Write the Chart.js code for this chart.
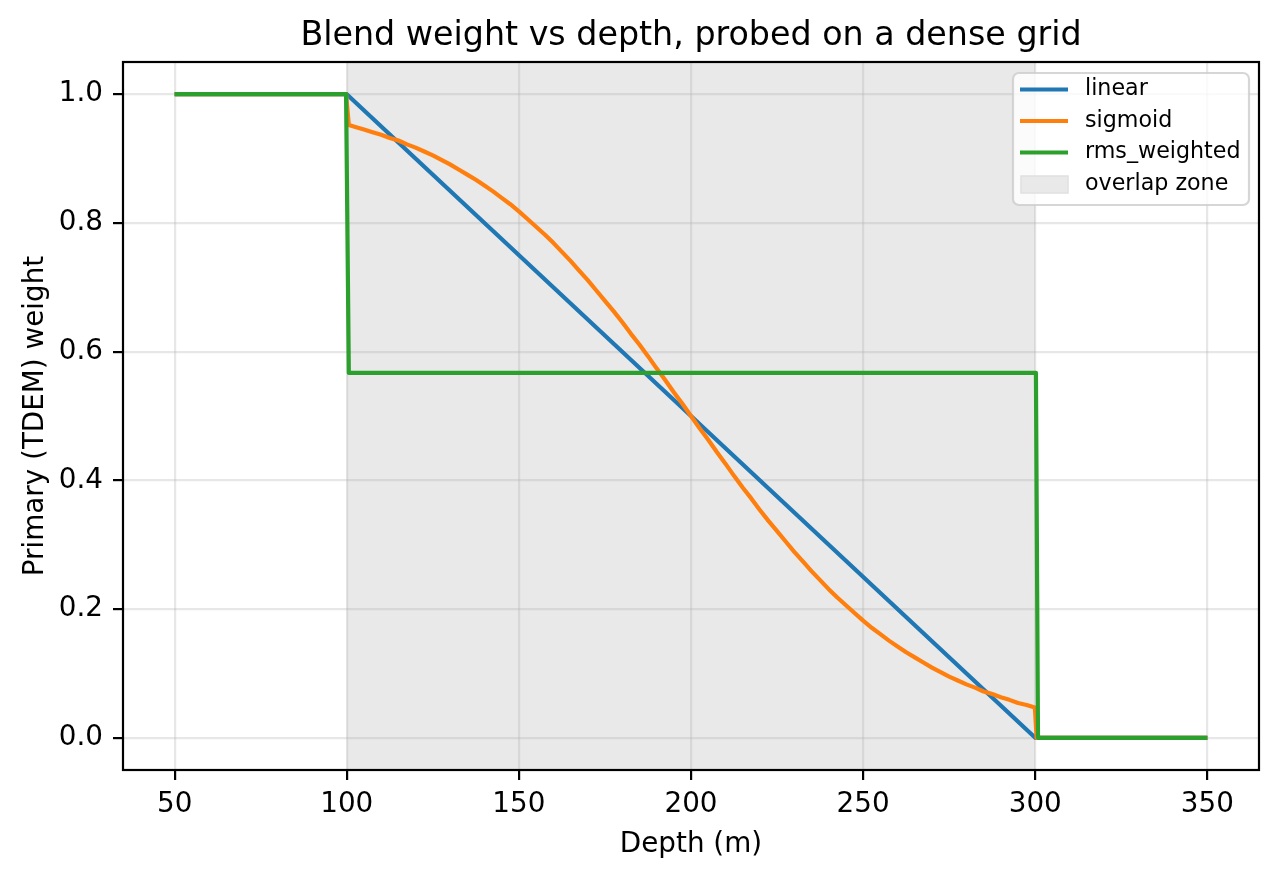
<!DOCTYPE html>
<html>
<head>
<meta charset="utf-8">
<script src="https://cdn.jsdelivr.net/npm/chart.js@4.4.1/dist/chart.umd.min.js"></script>
<style>
html,body{margin:0;padding:0;background:#fff;}
canvas{display:block;}
</style>
</head>
<body>
<canvas id="c" width="1280" height="877"></canvas>
<script>
// ---- data ----
const titleText = "Blend weight vs depth, probed on a dense grid";
const xLabel = "Depth (m)";
const yLabel = "Primary (TDEM) weight";
const xTicks = [50, 100, 150, 200, 250, 300, 350];
const yTicks = [0.0, 0.2, 0.4, 0.6, 0.8, 1.0];
const overlapZone = [100, 300];

const linearDepth = [50, 100, 300, 350];
const linearWeight = [1.0, 1.0, 0.0, 0.0];

const sigmoidDepth = [50, 99.8, 100.6, 102.5, 105, 107.5, 110, 112.5, 115, 117.5, 120, 122.5, 125, 127.5, 130, 132.5, 135, 137.5, 140, 142.5, 145, 147.5, 150, 152.5, 155, 157.5, 160, 162.5, 165, 167.5, 170, 172.5, 175, 177.5, 180, 182.5, 185, 187.5, 190, 192.5, 195, 197.5, 200, 202.5, 205, 207.5, 210, 212.5, 215, 217.5, 220, 222.5, 225, 227.5, 230, 232.5, 235, 237.5, 240, 242.5, 245, 247.5, 250, 252.5, 255, 257.5, 260, 262.5, 265, 267.5, 270, 272.5, 275, 277.5, 280, 282.5, 285, 287.5, 290, 292.5, 295, 297.5, 299.9, 300.4, 350];
const sigmoidWeight = [1.0, 1.0, 0.952, 0.949, 0.945, 0.941, 0.937, 0.932, 0.928, 0.922, 0.917, 0.911, 0.905, 0.898, 0.891, 0.883, 0.875, 0.867, 0.858, 0.849, 0.839, 0.829, 0.818, 0.806, 0.794, 0.782, 0.769, 0.755, 0.741, 0.726, 0.711, 0.695, 0.679, 0.663, 0.646, 0.628, 0.611, 0.593, 0.574, 0.556, 0.537, 0.519, 0.500, 0.481, 0.463, 0.444, 0.426, 0.407, 0.389, 0.372, 0.354, 0.337, 0.321, 0.305, 0.289, 0.274, 0.259, 0.245, 0.231, 0.218, 0.206, 0.194, 0.182, 0.171, 0.161, 0.151, 0.142, 0.133, 0.125, 0.117, 0.109, 0.102, 0.095, 0.089, 0.083, 0.078, 0.072, 0.068, 0.063, 0.059, 0.054, 0.051, 0.047, 0.0, 0.0];

const rmsDepth = [50, 99.8, 100.6, 300.2, 300.8, 350];
const rmsWeight = [1.0, 1.0, 0.567, 0.567, 0.0, 0.0];

const seriesNames = ["linear", "sigmoid", "rms_weighted"];
const seriesColors = ["#1f77b4", "#ff7f0e", "#2ca02c"];
const zoneName = "overlap zone";

// ---- build ----
function pts(xs, ys){ return xs.map((x,i)=>({x:x, y:ys[i]})); }

const FONT = "'DejaVu Sans', 'Liberation Sans', sans-serif";
const SPAN_FILL = "rgb(233,233,233)";

const bgPlugin = {
  id: 'bg',
  beforeDraw(chart){
    const ctx = chart.ctx, a = chart.chartArea, xs = chart.scales.x;
    ctx.save();
    ctx.fillStyle = '#fff';
    ctx.fillRect(0,0,chart.width,chart.height);
    const x0 = xs.getPixelForValue(overlapZone[0]);
    const x1 = xs.getPixelForValue(overlapZone[1]);
    ctx.fillStyle = SPAN_FILL;
    ctx.fillRect(x0, a.top, x1-x0, a.bottom-a.top);
    ctx.restore();
  }
};

const decoPlugin = {
  id: 'deco',
  afterDraw(chart){
    const ctx = chart.ctx, a = chart.chartArea;
    ctx.save();
    // frame
    ctx.strokeStyle = '#000';
    ctx.lineWidth = 2.2;
    ctx.strokeRect(a.left, a.top, a.right-a.left, a.bottom-a.top);
    // title
    ctx.fillStyle = '#000';
    ctx.textAlign = 'center';
    ctx.textBaseline = 'alphabetic';
    ctx.font = "33.3px " + FONT;
    ctx.fillText(titleText, (a.left+a.right)/2, 45);
    // x label
    ctx.font = "27.8px " + FONT;
    ctx.fillText(xLabel, (a.left+a.right)/2, 852);
    // y label
    ctx.save();
    ctx.translate(42.5, (a.top+a.bottom)/2);
    ctx.rotate(-Math.PI/2);
    ctx.fillText(yLabel, 0, 0);
    ctx.restore();
    // legend
    const lx = 1013, ly = 73, lw = 236, lh = 132;
    ctx.beginPath();
    ctx.roundRect(lx, ly, lw, lh, 6);
    ctx.fillStyle = 'rgba(255,255,255,0.8)';
    ctx.fill();
    ctx.strokeStyle = 'rgba(204,204,204,0.8)';
    ctx.lineWidth = 2.2;
    ctx.stroke();
    const rows = [89.5, 121, 152.5, 184];
    ctx.font = "22.2px " + FONT;
    ctx.textAlign = 'left';
    ctx.textBaseline = 'middle';
    for (let i=0;i<3;i++){
      ctx.beginPath();
      ctx.moveTo(1020, rows[i]);
      ctx.lineTo(1068, rows[i]);
      ctx.strokeStyle = seriesColors[i];
      ctx.lineWidth = 4.2;
      ctx.stroke();
      ctx.fillStyle = '#000';
      ctx.fillText(seriesNames[i], 1085, rows[i]);
    }
    ctx.fillStyle = SPAN_FILL;
    ctx.fillRect(1021, 176, 47, 17);
    ctx.strokeStyle = 'rgb(224,224,224)';
    ctx.lineWidth = 1.5;
    ctx.strokeRect(1021, 176, 47, 17);
    ctx.fillStyle = '#000';
    ctx.fillText(zoneName, 1085, rows[3]);
    ctx.restore();
  }
};

const datasets = [
  {label: seriesNames[0], data: pts(linearDepth, linearWeight), borderColor: seriesColors[0], order: 3},
  {label: seriesNames[1], data: pts(sigmoidDepth, sigmoidWeight), borderColor: seriesColors[1], order: 2},
  {label: seriesNames[2], data: pts(rmsDepth, rmsWeight), borderColor: seriesColors[2], order: 1}
].map(d => Object.assign({borderWidth: 4.2, pointRadius: 0, fill: false, tension: 0, borderJoinStyle: 'round'}, d));

new Chart(document.getElementById('c'), {
  type: 'line',
  data: { datasets },
  options: {
    responsive: false,
    animation: false,
    devicePixelRatio: 1,
    layout: { padding: { top: 62, right: 21, left: 0, bottom: 0 } },
    plugins: { legend: {display:false}, title: {display:false}, tooltip: {enabled:false} },
    scales: {
      x: {
        type: 'linear', min: 35, max: 365,
        afterBuildTicks(s){ s.ticks = xTicks.map(v=>({value:v})); },
        afterFit(s){ s.height = 107; },
        grid: { color: 'rgba(176,176,176,0.3)', lineWidth: 2.2, tickLength: 10, tickColor: '#000', tickWidth: 2.2, drawOnChartArea: true },
        border: { display: false },
        ticks: { font: {family: FONT, size: 27.8}, color: '#000', padding: 8, maxRotation: 0, autoSkip: false, callback: v => String(v) }
      },
      y: {
        type: 'linear', min: -0.05, max: 1.05,
        afterBuildTicks(s){ s.ticks = yTicks.map(v=>({value:v})); },
        afterFit(s){ s.width = 123; },
        grid: { color: 'rgba(176,176,176,0.3)', lineWidth: 2.2, tickLength: 10, tickColor: '#000', tickWidth: 2.2 },
        border: { display: false },
        ticks: { font: {family: FONT, size: 27.8}, color: '#000', padding: 10, autoSkip: false, callback: v => Number(v).toFixed(1) }
      }
    }
  },
  plugins: [bgPlugin, decoPlugin]
});
</script>
</body>
</html>
